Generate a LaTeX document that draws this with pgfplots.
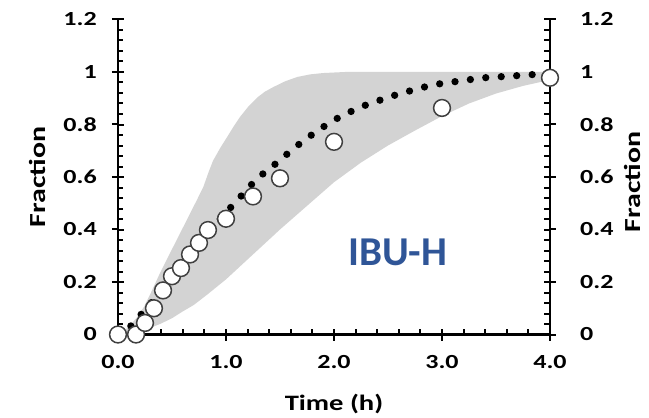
\documentclass[border=0pt]{standalone}
\usepackage{pgfplots}
\pgfplotsset{compat=1.18}
\usepackage{graphicx}
\usepackage{fontspec}
\setmainfont{Carlito}
\newcommand\wide[1]{\scalebox{1.3}[1]{#1}}
\definecolor{ibublue}{HTML}{2F5597}
\definecolor{bandgray}{HTML}{D3D3D3}

\pgfplotsset{
  frame/.style={
    at={(0,0)}, anchor=south west,
    scale only axis, width=432pt, height=315pt,
    xmin=0, xmax=4, ymin=0, ymax=1.2, clip=false,
    xtick={0,1,2,3,4},
    ytick={0,0.2,0.4,0.6,0.8,1,1.2},
    every tick/.style={black, line width=2pt},
    tick label style={font=\bfseries\fontsize{20}{20}\selectfont},
  },
}

\begin{document}
\begin{tikzpicture}
\useasboundingbox (-118pt,-83.5pt) rectangle (531pt,334.5pt);

% outer halves of the major ticks, right-hand labels
\begin{axis}[frame,
  axis x line=bottom, axis y line=box,
  axis line style={draw=none},
  tick align=outside, major tick length=6pt,
  minor x tick num=0, minor y tick num=0,
  xticklabels={},
  yticklabel pos=right,
  yticklabels={\wide{0},\wide{0.2},\wide{0.4},\wide{0.6},\wide{0.8},\wide{1},\wide{1.2}},
  yticklabel style={anchor=west, inner sep=0pt, xshift=24pt},
  ylabel={\wide{Fraction}},
  ylabel style={at={(axis description cs:1,0.485)}, anchor=center, rotate=0,
    yshift=-83pt, inner sep=0pt, font=\bfseries\fontsize{23}{23}\selectfont},
]
\end{axis}

% axis lines, inner ticks, left and bottom labels
\begin{axis}[frame,
  axis x line=bottom, axis y line=box,
  axis line style={-, line width=2.6pt},
  tick align=inside, major tick length=6pt, minor tick length=5.5pt,
  minor x tick num=4, minor y tick num=4,
  xticklabels={\wide{0.0},\wide{1.0},\wide{2.0},\wide{3.0},\wide{4.0}},
  yticklabel pos=left,
  yticklabels={\wide{0},\wide{0.2},\wide{0.4},\wide{0.6},\wide{0.8},\wide{1},\wide{1.2}},
  yticklabel style={anchor=east, inner sep=0pt, xshift=-21pt},
  xticklabel style={anchor=base, inner sep=0pt, yshift=-33.5pt},
  xlabel={\wide{Time (h)}},
  xlabel style={at={(axis description cs:0.5,0)}, anchor=base, inner sep=0pt,
    yshift=-75.5pt, font=\bfseries\fontsize{22}{22}\selectfont},
  ylabel={\wide{Fraction}},
  ylabel style={at={(axis description cs:0,0.5)}, anchor=center,
    yshift=80pt, inner sep=0pt, font=\bfseries\fontsize{23}{23}\selectfont},
]
\end{axis}

% data
\begin{axis}[frame, hide axis]
  % range of the model predictions: upper edge left to right, lower edge back
  \addplot[fill=bandgray, draw=none] coordinates {
    (0,0) (0.08,0.022) (0.17,0.062) (0.24,0.105) (0.3,0.155) (0.39,0.235)
    (0.45,0.284) (0.51,0.333) (0.59,0.398) (0.67,0.463) (0.73,0.512)
    (0.79,0.562) (0.84,0.62) (0.88,0.662) (0.95,0.713) (1.01,0.752)
    (1.07,0.792) (1.13,0.829) (1.21,0.87) (1.29,0.903) (1.36,0.925)
    (1.44,0.943) (1.55,0.965) (1.66,0.981) (1.78,0.991) (1.9,0.996)
    (2.1,1.0) (3.0,1.0) (4.0,1.0)
    (4.0,0.97) (3.75,0.947) (3.5,0.918) (3.25,0.88) (3.0,0.832)
    (2.75,0.777) (2.5,0.72) (2.25,0.655) (2.0,0.58) (1.75,0.49)
    (1.5,0.4) (1.25,0.305) (1.0,0.21) (0.82,0.15) (0.7,0.112)
    (0.6,0.088) (0.5,0.062) (0.39,0.04) (0.3,0.026) (0.2,0.014) (0.1,0.006)
    (0,0)} -- cycle;

  % model fit
  \addplot[black, line width=7.3pt, line cap=round, dash pattern=on 0pt off 15.5pt, smooth]
    coordinates {
    (0,0) (0.1,0.025) (0.2,0.07) (0.4,0.165) (0.6,0.265) (0.8,0.37)
    (1.0,0.465) (1.08,0.5) (1.28,0.59) (1.4,0.63) (1.51,0.668) (1.62,0.706)
    (1.74,0.745) (1.86,0.779) (1.98,0.812) (2.11,0.84) (2.25,0.867)
    (2.38,0.886) (2.52,0.906) (2.67,0.924) (2.81,0.94) (2.95,0.953)
    (3.1,0.962) (3.24,0.97) (3.39,0.978) (3.54,0.982) (3.69,0.986)
    (3.83,0.99) (4.0,0.993)};

  % measured fractions
  \addplot[only marks, mark=*, mark size=8.4pt,
    mark options={fill=white, draw=black!75, line width=1.5pt}] coordinates {
    (0,0) (0.167,0) (0.25,0.044) (0.333,0.1) (0.417,0.168) (0.5,0.222)
    (0.583,0.253) (0.667,0.305) (0.75,0.349) (0.833,0.398) (1.0,0.441)
    (1.25,0.526) (1.5,0.595) (2.0,0.734) (3.0,0.863) (4.0,0.978)};

  \node[font=\bfseries\fontsize{41}{41}\selectfont, text=ibublue, inner sep=0pt]
    at (axis cs:2.59,0.314) {IBU-H};
\end{axis}
\end{tikzpicture}
\end{document}
